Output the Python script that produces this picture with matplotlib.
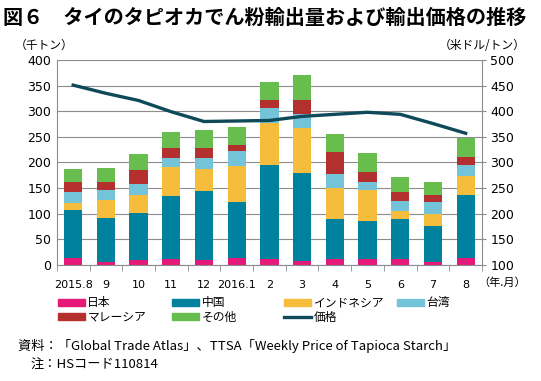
import numpy as np
import matplotlib
matplotlib.use("Agg")
import matplotlib.pyplot as plt
from matplotlib.patches import Patch
from matplotlib.lines import Line2D

# ── DATA ───────────────────────────────────────────────────
months = ["2015.8", "9", "10", "11", "12", "2016.1", "2", "3", "4", "5", "6", "7", "8"]

# export volume (thousand tonnes) by destination
japan     = [13, 5, 10, 11, 10, 14, 12, 7, 12, 12, 12, 6, 13]
china     = [94, 87, 91, 123, 135, 108, 183, 173, 77, 74, 77, 70, 124]
indonesia = [13, 34, 35, 57, 42, 71, 82, 87, 61, 60, 17, 23, 36]
taiwan    = [22, 20, 23, 18, 22, 29, 29, 28, 28, 16, 18, 23, 22]
malaysia  = [19, 15, 26, 19, 19, 13, 15, 26, 42, 19, 18, 14, 16]
others    = [26, 28, 32, 32, 36, 35, 37, 49, 35, 37, 30, 25, 37]

# export price (US$/tonne)
price = [451, 435, 421, 399, 380, 381, 382, 390, 394, 398, 394, 376, 357]

# ── PALETTE ────────────────────────────────────────────────
C_JAPAN  = "#E5197A"
C_CHINA  = "#00819D"
C_INDO   = "#F6BD3C"
C_TAIWAN = "#74C4D9"
C_MALAY  = "#B3302F"
C_OTHER  = "#68BD4F"
C_PRICE  = "#0E4A5A"
GRID     = "#8C8C8C"

plt.rcParams["font.family"] = ["DejaVu Sans", "Noto Sans CJK JP"]
JP = ["Noto Sans CJK JP", "DejaVu Sans"]

fig = plt.figure(figsize=(5.41, 3.81), dpi=100)
ax = fig.add_axes([0.105, 0.3045, 0.786, 0.538])

x = np.arange(len(months))
series = [
    ("日本", japan, C_JAPAN),
    ("中国", china, C_CHINA),
    ("インドネシア", indonesia, C_INDO),
    ("台湾", taiwan, C_TAIWAN),
    ("マレーシア", malaysia, C_MALAY),
    ("その他", others, C_OTHER),
]
bottom = np.zeros(len(months))
for label, vals, col in series:
    ax.bar(x, vals, 0.56, bottom=bottom, color=col, edgecolor="none", zorder=2)
    bottom += np.array(vals)

ax.set_xlim(-0.5, len(months) - 0.5)
ax.set_ylim(0, 400)
ax.set_yticks(range(0, 401, 50))
ax.grid(axis="y", color=GRID, linewidth=0.8, zorder=0)
ax.set_axisbelow(True)
ax.set_xticks(x)
ax.set_xticklabels(months, fontsize=8)
ax.set_xticks(np.arange(-0.5, len(months), 1), minor=True)
ax.tick_params(axis="x", which="major", length=0, pad=11)
ax.tick_params(axis="x", which="minor", length=4, color=GRID, direction="out")
ax.tick_params(axis="y", labelsize=9, length=0, pad=4)
for s in ["top", "right"]:
    ax.spines[s].set_visible(False)
for s in ["left", "bottom"]:
    ax.spines[s].set_color(GRID)
    ax.spines[s].set_linewidth(0.8)

ax2 = ax.twinx()
ax2.plot(x, price, color=C_PRICE, linewidth=2.4, zorder=5)
ax2.set_ylim(100, 500)
ax2.set_yticks(range(100, 501, 50))
ax2.tick_params(axis="y", labelsize=9, length=3, color=GRID, pad=3)
for s in ["top", "left", "bottom"]:
    ax2.spines[s].set_visible(False)
ax2.spines["right"].set_color(GRID)
ax2.spines["right"].set_linewidth(0.8)

# ── TEXT ───────────────────────────────────────────────────
fig.text(0.006, 0.955, "図６　タイのタピオカでん粉輸出量および輸出価格の推移",
         fontsize=14.5, fontweight="bold", family=JP, va="center", ha="left")
fig.text(0.028, 0.880, "（千トン）", fontsize=8.5, family=JP, va="center")
fig.text(0.972, 0.880, "（米ドル/トン）", fontsize=8.5, family=JP, va="center", ha="right")
fig.text(0.884, 0.257, "（年.月）", fontsize=8, family=JP, va="center")

# ── LEGEND (four columns) ──────────────────────────────────
legend_cols = [
    [Patch(color=C_JAPAN, label="日本"), Patch(color=C_MALAY, label="マレーシア")],
    [Patch(color=C_CHINA, label="中国"), Patch(color=C_OTHER, label="その他")],
    [Patch(color=C_INDO, label="インドネシア"), Line2D([], [], color=C_PRICE, lw=2.4, label="価格")],
    [Patch(color=C_TAIWAN, label="台湾")],
]
col_x = [0.107, 0.318, 0.525, 0.734]
for hx, handles in zip(col_x, legend_cols):
    fig.legend(handles=handles, loc="upper left", bbox_to_anchor=(hx, 0.222),
               frameon=False, prop={"family": JP, "size": 8.5},
               handlelength=2.3, handleheight=0.6, handletextpad=0.2,
               labelspacing=0.1, borderpad=0, borderaxespad=0)

fig.text(0.033, 0.092, "資料：「Global Trade Atlas」、TTSA「Weekly Price of Tapioca Starch」",
         fontsize=9.5, family=JP, va="center")
fig.text(0.057, 0.042, "注：HSコード110814", fontsize=9.5, family=JP, va="center")

fig.savefig("out.png", dpi=100)
